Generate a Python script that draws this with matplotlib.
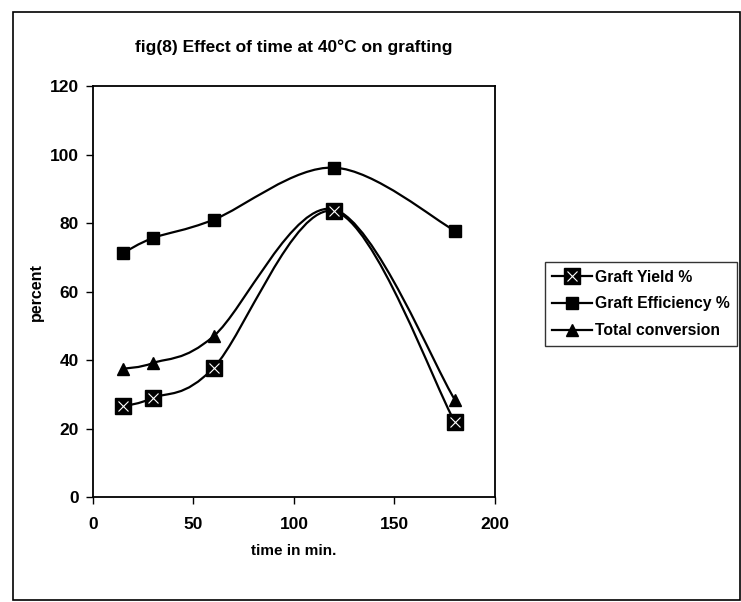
import matplotlib
matplotlib.use("Agg")
import matplotlib.pyplot as plt
from matplotlib.path import Path
from matplotlib.patches import PathPatch, Rectangle
from matplotlib.lines import Line2D

plt.rcParams['font.family'] = ['Liberation Sans', 'DejaVu Sans']
plt.rcParams['font.weight'] = 'bold'

time_min = [15, 30, 60, 120, 180]
graft_yield = [26.5, 29, 37.8, 83.5, 22]
graft_eff = [71.3, 75.7, 81, 96.2, 77.8]
total_conv = [37.5, 39.2, 47, 84, 28.5]

series_names = ["Graft Yield %", "Graft Efficiency %", "Total conversion"]


def smooth_path(xs, ys):
    # Excel-style smoothed line: cubic Bezier through the points
    pts = list(zip(xs, ys))
    n = len(pts)
    verts = [pts[0]]
    codes = [Path.MOVETO]
    for i in range(n - 1):
        p0 = pts[i - 1] if i > 0 else pts[i]
        p1 = pts[i]
        p2 = pts[i + 1]
        p3 = pts[i + 2] if i + 2 < n else pts[i + 1]
        c1 = (p1[0] + (p2[0] - p0[0]) / 6, p1[1] + (p2[1] - p0[1]) / 6)
        c2 = (p2[0] - (p3[0] - p1[0]) / 6, p2[1] - (p3[1] - p1[1]) / 6)
        verts += [c1, c2, p2]
        codes += [Path.CURVE4] * 3
    return Path(verts, codes)


fig = plt.figure(figsize=(7.41, 6.02), dpi=100)
ax = fig.add_axes([0.1255, 0.174, 0.5425, 0.683])

for ys in (graft_yield, graft_eff, total_conv):
    ax.add_patch(PathPatch(smooth_path(time_min, ys), facecolor='none',
                           edgecolor='black', lw=1.6, zorder=2))

ax.plot(time_min, graft_yield, ls='none', marker='s', ms=12, color='black', zorder=3)
ax.plot(time_min, graft_yield, ls='none', marker='x', ms=7, mew=0.8, color='white', zorder=4)
ax.plot(time_min, graft_eff, ls='none', marker='s', ms=8, color='black', zorder=3)
ax.plot(time_min, total_conv, ls='none', marker='^', ms=9, color='black', zorder=3)

ax.set_xlim(0, 200)
ax.set_ylim(0, 120)
ax.set_xticks([0, 50, 100, 150, 200])
ax.set_yticks([0, 20, 40, 60, 80, 100, 120])
ax.tick_params(direction='out', length=5, width=1, labelsize=12.5)
ax.tick_params(axis='x', pad=9)
ax.tick_params(axis='y', pad=5)
for lab in ax.get_xticklabels() + ax.get_yticklabels():
    lab.set_fontweight('bold')
for sp in ax.spines.values():
    sp.set_linewidth(1.3)
ax.set_xlabel("time in min.", fontsize=11, fontweight='bold', labelpad=9)
ax.set_ylabel("percent", fontsize=11.5, fontweight='bold', labelpad=4)

fig.text(0.396, 0.922, "fig(8) Effect of time at 40°C on grafting",
         ha='center', va='center', fontsize=12.5, fontweight='bold')

h_yield = (Line2D([], [], color='black', lw=1.6, marker='s', ms=12),
           Line2D([], [], ls='none', marker='x', ms=7, mew=0.8, color='white'))
h_eff = Line2D([], [], color='black', lw=1.6, marker='s', ms=8)
h_conv = Line2D([], [], color='black', lw=1.6, marker='^', ms=9)
leg = fig.legend([h_yield, h_eff, h_conv], series_names,
                 loc='upper left', bbox_to_anchor=(0.735, 0.565),
                 fontsize=11.3, frameon=True, fancybox=False, edgecolor='black',
                 handlelength=2.5, handletextpad=0.2, borderpad=0.5,
                 labelspacing=0.75, borderaxespad=0)
leg.get_frame().set_linewidth(1.0)
for t in leg.get_texts():
    t.set_fontweight('bold')

fig.patches.append(Rectangle((13 / 741, 2 / 602), 727 / 741, 588 / 602,
                             transform=fig.transFigure, fill=False,
                             edgecolor='black', lw=1.2))

fig.savefig("out.png", dpi=100)
